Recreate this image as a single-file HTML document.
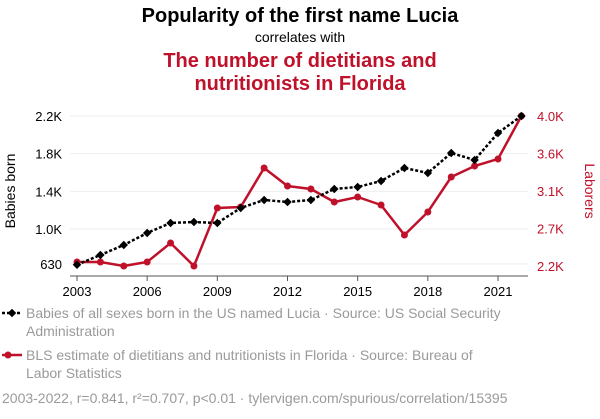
<!DOCTYPE html>
<html><head><meta charset="utf-8"><style>
body{margin:0;background:#fff;font-family:"Liberation Sans",sans-serif;}
</style></head><body>
<svg width="600" height="414" xmlns="http://www.w3.org/2000/svg" font-family="Liberation Sans, sans-serif">
<text x="300" y="22" text-anchor="middle" font-size="20" font-weight="bold" fill="#000">Popularity of the first name Lucia</text>
<text x="300" y="42" text-anchor="middle" font-size="14" fill="#000">correlates with</text>
<text x="300" y="67" text-anchor="middle" font-size="20" font-weight="bold" fill="#c0112b">The number of dietitians and</text>
<text x="300" y="90" text-anchor="middle" font-size="20" font-weight="bold" fill="#c0112b">nutritionists in Florida</text>
<g id="grid"></g>
<g id="axes"></g>
<g id="series"></g>
<text transform="translate(15,191) rotate(-90)" text-anchor="middle" font-size="14" fill="#000">Babies born</text>
<text transform="translate(585,191) rotate(90)" text-anchor="middle" font-size="14" fill="#c0112b">Laborers</text>
<g>
<line x1="2" y1="313" x2="22" y2="313" stroke="#000" stroke-width="2.5" stroke-dasharray="3,2"/>
<rect x="9" y="310" width="6" height="6" transform="rotate(45 12 313)" fill="#000"/>
<text x="26" y="318" font-size="14" fill="#9a9a9a">Babies of all sexes born in the US named Lucia · Source: US Social Security</text>
<text x="26" y="336" font-size="14" fill="#9a9a9a">Administration</text>
</g>
<g>
<line x1="2" y1="355" x2="22" y2="355" stroke="#c0112b" stroke-width="2.5"/>
<circle cx="8" cy="355" r="3.5" fill="#c0112b"/>
<text x="26" y="360" font-size="14" fill="#9a9a9a">BLS estimate of dietitians and nutritionists in Florida · Source: Bureau of</text>
<text x="26" y="378" font-size="14" fill="#9a9a9a">Labor Statistics</text>
</g>
<text x="2" y="403" font-size="14" fill="#9a9a9a">2003-2022, r=0.841, r²=0.707, p&lt;0.01 · tylervigen.com/spurious/correlation/15395</text>
</svg>
<script>
const years=[2003,2004,2005,2006,2007,2008,2009,2010,2011,2012,2013,2014,2015,2016,2017,2018,2019,2020,2021,2022];
const babies=[620,724,830,958,1064,1074,1064,1223,1308,1287,1308,1425,1446,1510,1648,1595,1807,1733,2020,2200];
const laborers=[2248,2248,2200,2248,2476,2200,2896,2908,3376,3160,3124,2968,3028,2932,2572,2848,3268,3400,3484,4000];
const leftTicks=[630,1000,1400,1800,2200];
const leftLabels=["630","1.0K","1.4K","1.8K","2.2K"];
const rightTicks=[2200,2650,3100,3550,4000];
const rightLabels=["2.2K","2.7K","3.1K","3.6K","4.0K"];
const xTicks=[2003,2006,2009,2012,2015,2018,2021];
const NS="http://www.w3.org/2000/svg";
const x=v=>77+(v-2003)*(498-77)/18;
const yL=v=>229-(v-1000)*(113/1200);
const yR=v=>266-(v-2200)*(150/1800);
function mk(t,a,p){const e=document.createElementNS(NS,t);for(const k in a)e.setAttribute(k,a[k]);p.appendChild(e);return e;}
const grid=document.getElementById('grid'),axes=document.getElementById('axes'),ser=document.getElementById('series');
leftTicks.forEach((v,i)=>{
 const g=mk('line',{x1:70,x2:528,y1:yL(v),y2:yL(v),stroke:'#eee','stroke-width':1},grid);
 
 
 const t=mk('text',{x:62,y:yL(v)+5,'text-anchor':'end','font-size':13,fill:'#000'},axes);t.textContent=leftLabels[i];
 
 
});
rightTicks.forEach((v,i)=>{
 const t=mk('text',{x:537,y:yR(v)+5,'font-size':13,fill:'#c0112b'},axes);t.textContent=rightLabels[i];
 
 
});
const ax=mk('line',{x1:70,x2:528,y1:276,y2:276,stroke:'#555','stroke-width':1},axes);


xTicks.forEach(v=>{
 const tk=mk('line',{x1:x(v),x2:x(v),y1:276,y2:281,stroke:'#555'},axes);
 
 
 const t=mk('text',{x:x(v),y:296,'text-anchor':'middle','font-size':13,fill:'#000'},axes);t.textContent=v;
 
 
});
const rp=mk('polyline',{points:years.map((v,i)=>x(v)+','+yR(laborers[i])).join(' '),fill:'none',stroke:'#c0112b','stroke-width':2.5},ser);


years.forEach((v,i)=>{
 const c=mk('circle',{cx:x(v),cy:yR(laborers[i]),r:3.5,fill:'#c0112b'},ser);
 
 
});
const bp=mk('polyline',{points:years.map((v,i)=>x(v)+','+yL(babies[i])).join(' '),fill:'none',stroke:'#000','stroke-width':2.5,'stroke-dasharray':'3,2'},ser);


years.forEach((v,i)=>{
 const cx=x(v),cy=yL(babies[i]);
 const r=mk('rect',{x:cx-3,y:cy-3,width:6,height:6,fill:'#000',transform:`rotate(45 ${cx} ${cy})`},ser);
 
 
});
</script>
</body></html>
